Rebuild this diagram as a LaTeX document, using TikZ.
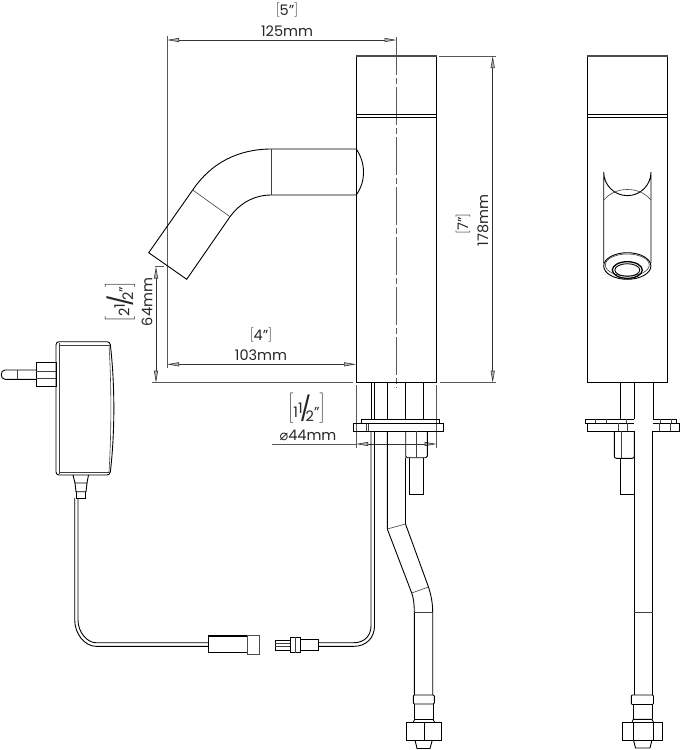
\documentclass[tikz,border=0pt]{standalone}
\usepackage{fontspec}
\setmainfont{Poppins}
\newfontfamily\symfont{DejaVu Sans}
\usetikzlibrary{arrows.meta}
\tikzset{
  part/.style={line width=0.9pt, black},
  thin part/.style={line width=0.6pt, black!75},
  dim/.style={line width=0.6pt, black!80, {Triangle[length=12pt,width=4pt,fill=black!30]}-{Triangle[length=12pt,width=4pt,fill=black!30]}},
  ext/.style={line width=0.6pt, black!65},
  lbl/.style={inner sep=0pt, font=\fontsize{14.5}{15}\selectfont, text=black!85}
}
\newcommand{\brk}[1]{$\left[\vcenter{\hbox{#1}}\right]$}
\newcommand{\halfin}[1]{#1\raisebox{.55ex}{1}\kern-.2em{\fontsize{24}{24}\selectfont/}\kern-.38em\raisebox{-.5ex}{2}''}
\begin{document}
\begin{tikzpicture}[x=1pt,y=-1pt]
      \useasboundingbox (0,0) rectangle (680,750);
      % dimensions
      \draw[ext] (167,36) -- (167,368);
      \draw[ext, dash pattern=on 38pt off 3pt on 6pt off 3pt] (396.5,37) -- (396.5,388);
      \draw[ext] (439,56) -- (496,56);
      \draw[ext] (440,382.7) -- (496,382.7);
      \draw[ext] (152,382.7) -- (353,382.7);
      \draw[ext] (155,266.5) -- (164,266.5);
      \draw[ext] (356,385) -- (356,447.5);
      \draw[ext] (436.7,385) -- (436.7,447.5);
      \draw[dim] (167,40) -- (396.5,40);
      \draw[dim] (492.7,56) -- (492.7,382.7);
      \draw[dim] (156,266.5) -- (156,382.7);
      \draw[dim] (167,364.3) -- (356,364.3);
      \draw[dim, {Triangle[length=12pt,width=4pt,fill=black!30]}-{Triangle[length=12pt,width=4pt,fill=black!30]}] (356,444) -- (436.7,444);
      \draw[ext] (272,444) -- (356,444);
      \node[lbl] (widthmm) at (287,31) {125mm};
      \node[lbl] (widthin) at (287,10) {\brk{5''}};
      \node[lbl] (reachmm) at (261,355) {103mm};
      \node[lbl] (reachin) at (261,335) {\brk{4''}};
      \node[lbl, rotate=90] (heightmm) at (483,220.5) {178mm};
      \node[lbl, rotate=90] (heightin) at (463,224) {\brk{7''}};
      \node[lbl, rotate=90] (clearmm) at (147,302) {64mm};
      \node[lbl, rotate=90] (clearin) at (120,302) {\brk{\halfin{2}}};
      \node[lbl] (diamin) at (306.5,408.5) {\brk{\halfin{1}}};
      \node[lbl] (diammm) at (308,435) {{\symfont ⌀}44mm};
      % side view body
      \draw[part] (356.3,382.7) -- (356.3,56) -- (436.5,56) -- (436.5,382.7) -- cycle;
      \draw[line width=1.6pt, black!70] (356.3,56) -- (436.5,56);
      \draw[part] (356.3,114.5) -- (436.5,114.5);
      \draw[part] (356.3,117.3) -- (436.5,117.3);
      % spout
      \draw[part] (356.3,149) -- (271.7,149) .. controls (238,149) and (211,163) .. (192.7,190)
        -- (148.7,252.7) -- (186.7,279.3) -- (230,216.7) .. controls (241,202) and (255,195) .. (271.7,195) -- (356.3,195);
      \draw[part] (356.3,149) .. controls (361,156) and (363.5,164) .. (363.5,172) .. controls (363.5,181) and (361,188) .. (356.3,195);
      \draw[thin part] (271.7,149) -- (271.7,195);
      \draw[thin part] (192.7,190) -- (230,216.7);
      % side view fittings
      \foreach \xp in {371,374.3,387.3,405.5,423.7}
        \draw[part] (\xp,383) -- (\xp,419.3);
      \draw[part] (361.7,423.3) -- (361.7,419.3) -- (439,419.3) -- (439,423.3);
      \draw[part] (353.7,423.3) rectangle (443.3,431);
      \draw[thin part] (366,424) -- (366,431);
      \draw[thin part] (368,424) -- (368,431);
      \draw[part, rounded corners=1.5pt] (405.7,431) -- (405.7,457.7) -- (427.3,457.7) -- (427.3,431);
      \draw[thin part] (416.3,431) -- (416.3,457.7);
      \draw[part] (409.3,457.7) -- (409.3,494) -- (423.7,494) -- (423.7,457.7);
      % side view pipe
      \draw[part] (387.3,431) -- (387.3,529) -- (411.7,593) .. controls (413.5,598) and (414.3,604) .. (414.3,612) -- (414.3,695);
      \draw[part] (405.5,457.7) -- (405.5,524) -- (428.5,587) .. controls (431,595) and (432.7,603) .. (432.7,612) -- (432.7,695);
      \draw[thin part] (387.3,529) -- (405.5,524);
      \draw[thin part] (411.7,593) -- (428.5,587);
      \draw[thin part] (414.3,612.7) -- (432.7,612.7);
      \draw[part, rounded corners=1pt] (413.3,695) rectangle (434.3,704);
      \draw[part] (414.5,704) -- (414.5,719.5) (433,704) -- (433,719.5);
      \draw[part] (413.5,722) -- (414.5,719.5) -- (433,719.5) -- (434.5,722);
      \draw[part] (406,722) rectangle (441.7,740);
      \draw[part] (424.3,722) -- (424.3,740);
      \draw[part] (415,740) -- (417,748.5) -- (430,748.5) -- (432.3,740);
      % cable with connectors
      \draw[part] (371,431) -- (371,626) .. controls (371,636) and (364,642.7) .. (354,642.7) -- (318.3,642.7);
      \draw[part] (374.5,431) -- (374.5,626) .. controls (374.5,638) and (366,646.3) .. (354,646.3) -- (318.3,646.3);
      \draw[part] (318.3,650.7) -- (300,650.7) -- (300,639.3) -- (318.3,639.3) -- cycle;
      \draw[part] (290,637.3) rectangle (300,652.7);
      \draw[thin part] (295,637.3) -- (295,652.7);
      \draw[part] (275.3,640.7) rectangle (290,650);
      \draw[thin part] (275.3,643.7) -- (290,643.7) (275.3,646.7) -- (290,646.7);
      \draw[line width=1.4pt] (208,636) -- (247.3,636) (208,652.7) -- (247.3,652.7);
      \draw[part] (208,636) -- (208,652.7);
      \draw[part, black!70] (247.3,635) rectangle (259.3,654.3);
      \draw[part] (208,642.7) -- (96,642.7) .. controls (87,642.7) and (78,632) .. (78,620) -- (78,498);
      \draw[part] (208,646.3) -- (96,646.3) .. controls (85,646.3) and (74.7,634) .. (74.7,620) -- (74.7,498);
      % power adapter
      \draw[part, rounded corners=3pt] (56,341.7) -- (110,341.7) .. controls (115,385) and (115,432) .. (110,475) -- (56,475) -- cycle;
      \draw[thin part] (59.5,343) -- (59.5,474);
      \draw[thin part] (59,345) -- (110,345) (59,472) -- (110,472);
      \draw[thin part] (109,345) .. controls (111.5,385) and (111.5,432) .. (109,472);
      \draw[part] (36,362.3) rectangle (56,386.7);
      \draw[thin part] (36,371.7) -- (56,371.7) (36,378.3) -- (56,378.3);
      \draw[part] (36,370) -- (5,370) .. controls (0,370) and (0,379.3) .. (5,379.3) -- (36,379.3);
      \draw[thin part] (17.3,370) -- (17.3,379.3);
      \draw[part] (73,475) -- (75,483) -- (87,483) -- (88.5,475);
      \draw[part] (75,483) -- (76,491.7) -- (86,491.7) -- (87,483);
      \draw[part] (76,491.7) -- (76,498) -- (85,498) -- (85,491.7);
      % front view body
      \draw[part] (587.3,382.7) -- (587.3,56) -- (667.7,56) -- (667.7,382.7) -- cycle;
      \draw[line width=1.6pt, black!70] (587.3,56) -- (667.7,56);
      \draw[part] (587.3,114.4) -- (667.7,114.4);
      \draw[part] (587.3,117.3) -- (667.7,117.3);
      % front view spout
      \draw[part] (603.7,263) -- (603.7,172) arc[start angle=180, end angle=0, radius=23.65] -- (651,263);
      \draw[thin part] (603.7,200) .. controls (610,193) and (618,189.5) .. (627.3,189.5) .. controls (637,189.5) and (645,193) .. (651,200);
      \draw[part] (627.3,266) ellipse [x radius=23.6, y radius=13.3];
      \draw[thin part] (627.3,265) ellipse [x radius=22, y radius=11];
      \draw[line width=1.3pt] (627.3,270) ellipse [x radius=15, y radius=8.3];
      \draw[part] (627.3,270) ellipse [x radius=12.5, y radius=6.3];
      % front view fittings
      \foreach \xp in {620,634.3,653.3}
        \draw[part] (\xp,383) -- (\xp,419.3);
      \draw[part] (634.3,419.3) -- (585,419.3) -- (585,423.3) -- (634.3,423.3);
      \draw[part] (653.3,419.3) -- (676.7,419.3) -- (676.7,423.3) -- (653.3,423.3);
      \draw[part] (634.3,423.3) -- (587.3,423.3) -- (587.3,431.3) -- (634.3,431.3);
      \draw[part] (653.3,423.3) -- (679.3,423.3) -- (679.3,431.3) -- (653.3,431.3);
      \foreach \xp in {595,606.7,626.7,660.7,671.7}
        \draw[thin part] (\xp,419.3) -- (\xp,423.3);
      \foreach \xp in {618,627.3,659.3,670.7}
        \draw[thin part] (\xp,423.3) -- (\xp,431.3);
      \draw[part, rounded corners=2pt] (634.3,431.3) -- (634.3,458.3) -- (614.3,458.3) -- (614.3,431.3);
      \draw[thin part] (621.7,431.3) -- (621.7,458.3);
      \draw[part] (620,458.3) -- (620,494) -- (634.3,494);
      \draw[part] (634.3,431.3) -- (634.3,695);
      \draw[part] (652.5,431.3) -- (652.5,695);
      \draw[thin part] (634.3,612.3) -- (652.5,612.3);
      \draw[part, rounded corners=1pt] (631.3,695) rectangle (653.5,704.5);
      \draw[part] (633.3,704.5) -- (633.3,719.3) (652,704.5) -- (652,719.3);
      \draw[part] (632,722.3) -- (633.3,719.3) -- (652,719.3) -- (653.5,722.3);
      \draw[part] (622.3,722.3) rectangle (662.7,740);
      \draw[part] (633.3,722.3) -- (633.3,740) (653,722.3) -- (653,740);
      \draw[part] (633.5,740) -- (635.5,748) -- (650,748) -- (652,740);
\end{tikzpicture}
\end{document}
